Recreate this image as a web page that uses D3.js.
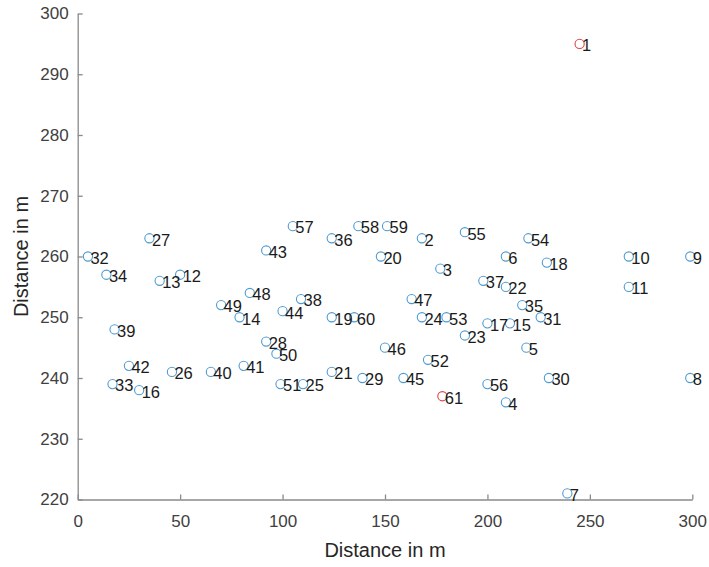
<!DOCTYPE html>
<html>
<head>
<meta charset="utf-8">
<script src="https://cdn.jsdelivr.net/npm/d3@7"></script>
<style>
  html, body { margin: 0; padding: 0; background: #fff; }
  svg { display: block; }
  text { font-family: Arial, "Liberation Sans", Helvetica, sans-serif; }
</style>
</head>
<body>
<svg id="chart" width="709" height="567"></svg>
<script>
// Data
const ids = [1,2,3,4,5,6,7,8,9,10,11,12,13,14,15,16,17,18,19,20,21,22,23,24,25,26,27,28,29,30,31,32,33,34,35,36,37,38,39,40,41,42,43,44,45,46,47,48,49,50,51,52,53,54,55,56,57,58,59,60,61];
const xs = [245,168,177,209,219,209,239,299,299,269,269,50,40,79,211,30,200,229,124,148,124,209,189,168,110,46,35,92,139,230,226,5,17,14,217,124,198,109,18,65,81,25,92,100,159,150,163,84,70,97,99,171,180,220,189,200,105,137,151,135,178];
const ys = [295,263,258,236,245,260,221,240,260,260,255,257,256,250,249,238,249,259,250,260,241,255,247,250,239,241,263,246,240,240,250,260,239,257,252,263,256,253,248,241,242,242,261,251,240,245,253,254,252,244,239,243,250,263,264,239,265,265,265,250,237];
const highlighted = [1, 61];
const xTicks = [0, 50, 100, 150, 200, 250, 300];
const yTicks = [220, 230, 240, 250, 260, 270, 280, 290, 300];
const xLabel = "Distance in m";
const yLabel = "Distance in m";

const svg = d3.select("#chart");
const x = d3.scaleLinear().domain([0, 300]).range([77.7, 692.3]);
const y = d3.scaleLinear().domain([220, 300]).range([499.5, 13.5]);

const axisColor = "#8a8a8a";
const tickTextColor = "#404040";

// X axis (ticks inward)
const gx = svg.append("g").attr("transform", `translate(0,${y(220)})`)
  .call(d3.axisBottom(x).tickValues(xTicks).tickSize(-5).tickSizeOuter(0).tickPadding(15));
// Y axis (ticks inward)
const gy = svg.append("g").attr("transform", `translate(${x(0)},0)`)
  .call(d3.axisLeft(y).tickValues(yTicks).tickSize(-5).tickSizeOuter(0).tickPadding(9));

[gx, gy].forEach(g => {
  g.select(".domain").attr("stroke", axisColor).attr("stroke-width", 1.3);
  g.selectAll(".tick line").attr("stroke", axisColor).attr("stroke-width", 1.3);
  g.selectAll(".tick text").attr("fill", tickTextColor)
    .style("font-size", "17px");
});
gx.selectAll(".tick text").attr("dy", "0.71em");

// axis labels
svg.append("text")
  .attr("x", (x(0) + x(300)) / 2).attr("y", 557)
  .attr("text-anchor", "middle").attr("fill", "#262626")
  .style("font-size", "20px").text(xLabel);
svg.append("text")
  .attr("transform", `translate(28,${(y(220) + y(300)) / 2}) rotate(-90)`)
  .attr("text-anchor", "middle").attr("fill", "#262626")
  .style("font-size", "20px").text(yLabel);

const pts = ids.map((id, i) => ({ id, x: xs[i], y: ys[i], red: highlighted.includes(id) }));

// markers
svg.append("g").selectAll("circle").data(pts).join("circle")
  .attr("cx", d => x(d.x)).attr("cy", d => y(d.y)).attr("r", 4.6)
  .attr("fill", "none")
  .attr("stroke", d => d.red ? "#d9464a" : "#4d9bd2")
  .attr("stroke-width", 1.1);

// labels
svg.append("g").selectAll("text").data(pts).join("text")
  .attr("x", d => x(d.x) + 2.5).attr("y", d => y(d.y) + 3)
  .attr("dominant-baseline", "middle")
  .attr("fill", "#1a1a1a")
  .style("font-size", "16.5px")
  .text(d => d.id);
</script>
</body>
</html>
